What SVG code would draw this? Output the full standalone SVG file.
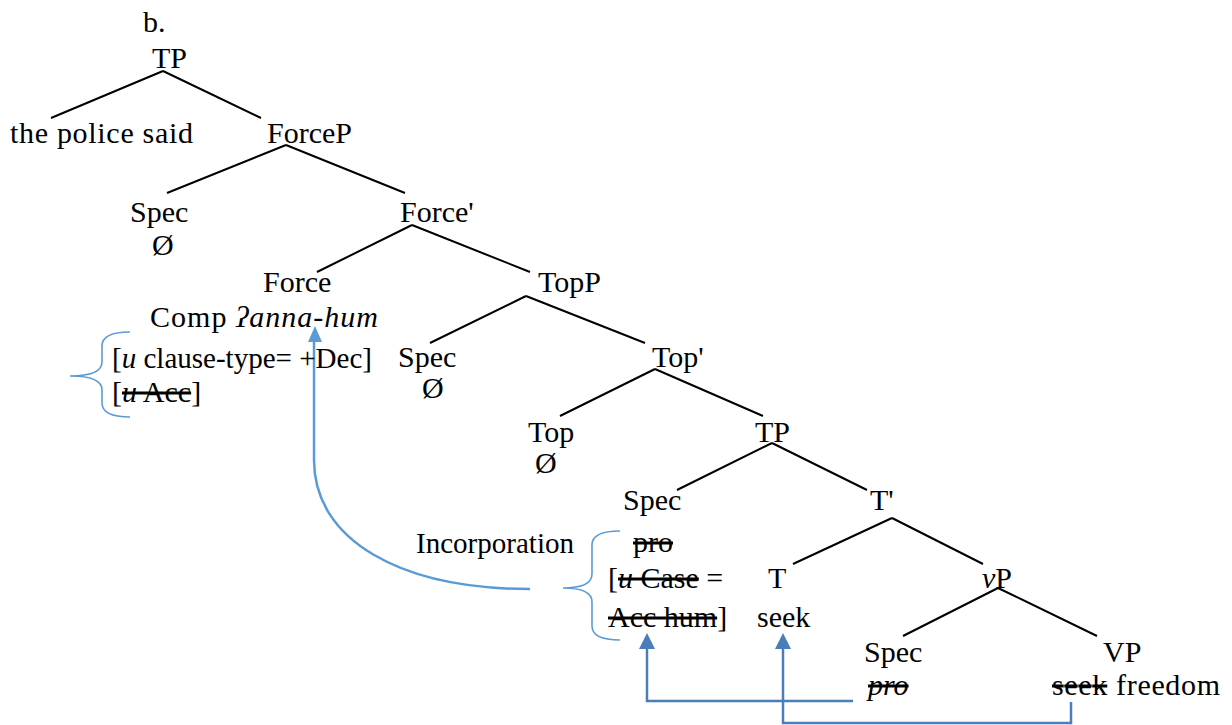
<svg xmlns="http://www.w3.org/2000/svg" width="1232" height="725" viewBox="0 0 1232 725">
<style>
text{font-family:"Liberation Serif","Times New Roman",serif;font-size:30px;fill:#000}
.i{font-style:italic}
.s{text-decoration:line-through}
.edge{stroke:#000;stroke-width:2;fill:none}
.arr{stroke:#4a7ebb;stroke-width:2.5;fill:none}
.ah{fill:#4a7ebb}
.inc{stroke:#5b9bd5;stroke-width:2.5;fill:none}
.brace{stroke:#5b9bd5;stroke-width:1.6;fill:none}
</style>
<rect width="1232" height="725" fill="#fff"/>
<g id="connectors">
<path class="edge" d="M163,71L51,118M163,71L261,118"/>
<path class="edge" d="M286,145L167,193M286,145L405,193"/>
<path class="edge" d="M412,225L317,272M412,225L530,272"/>
<path class="edge" d="M526,296L430,343M526,296L645,343"/>
<path class="edge" d="M655,369L560,416M655,369L763,416"/>
<path class="edge" d="M772,443L677,490M772,443L867,490"/>
<path class="edge" d="M892,518L793,564M892,518L983,564"/>
<path class="edge" d="M998,588L903,636M998,588L1097,636"/>
<path class="arr" d="M853,701H647V648"/>
<polygon class="ah" points="647,633 639,649 655,649"/>
<path class="arr" d="M1071,702V723H783V648"/>
<polygon class="ah" points="783,633 775,649 791,649"/>
<path class="inc" d="M530,589C400,589 314,540 314,460V340"/>
<polygon fill="#5b9bd5" points="315,326 308,342 322,342"/>
<path class="brace" d="M130,332Q102,332 102,346V362Q102,376 70,376Q102,376 102,390V403Q102,417 130,417"/>
<path class="brace" d="M620,531Q592,531 592,545V574Q592,588 563,588Q592,588 592,602V626Q592,640 620,640"/>
</g>
<g id="label-b"><text x="143" y="32">b.</text></g>
<g id="n-TP1"><text x="152" y="68">TP</text></g>
<g id="n-police"><text x="10" y="143" textLength="183" lengthAdjust="spacing">the police said</text></g>
<g id="n-ForceP"><text x="267" y="143">ForceP</text></g>
<g id="n-Spec1"><text x="130" y="222">Spec</text><text x="152" y="255">Ø</text></g>
<g id="n-ForceBar"><text x="400" y="222">Force'</text></g>
<g id="n-Force"><text x="263" y="292">Force</text><text x="150" y="327" textLength="228" lengthAdjust="spacing">Comp <tspan class="i">ʔanna-hum</tspan></text><text x="112" y="368" textLength="260" lengthAdjust="spacingAndGlyphs">[<tspan class="i">u</tspan> clause-type= +Dec]</text><text x="112" y="402">[<tspan class="s"><tspan class="i">u</tspan> Acc</tspan>]</text></g>
<g id="n-TopP"><text x="538" y="292">TopP</text></g>
<g id="n-Spec2"><text x="398" y="367">Spec</text><text x="422" y="398">Ø</text></g>
<g id="n-TopBar"><text x="652" y="367">Top'</text></g>
<g id="n-Top"><text x="528" y="442">Top</text><text x="535" y="473">Ø</text></g>
<g id="n-TP2"><text x="755" y="442">TP</text></g>
<g id="n-Spec3"><text x="623" y="510">Spec</text><text x="633" y="552" class="s">pro</text><text x="608" y="588">[<tspan class="s"><tspan class="i">u</tspan> Case</tspan> =</text><text x="608" y="627"><tspan class="s">Acc hum</tspan>]</text></g>
<g id="n-TBar"><text x="870" y="510">T'</text></g>
<g id="n-T"><text x="768" y="588">T</text><text x="757" y="627">seek</text></g>
<g id="n-vP"><text x="982" y="588"><tspan class="i">v</tspan>P</text></g>
<g id="n-Spec4"><text x="864" y="662">Spec</text><text x="868" y="695" class="i s">pro</text></g>
<g id="n-VP"><text x="1103" y="662">VP</text><text x="1052" y="695" textLength="168" lengthAdjust="spacing"><tspan class="s">seek</tspan> freedom</text></g>
<g id="label-inc"><text x="416" y="553" textLength="158" lengthAdjust="spacingAndGlyphs">Incorporation</text></g>
</svg>
